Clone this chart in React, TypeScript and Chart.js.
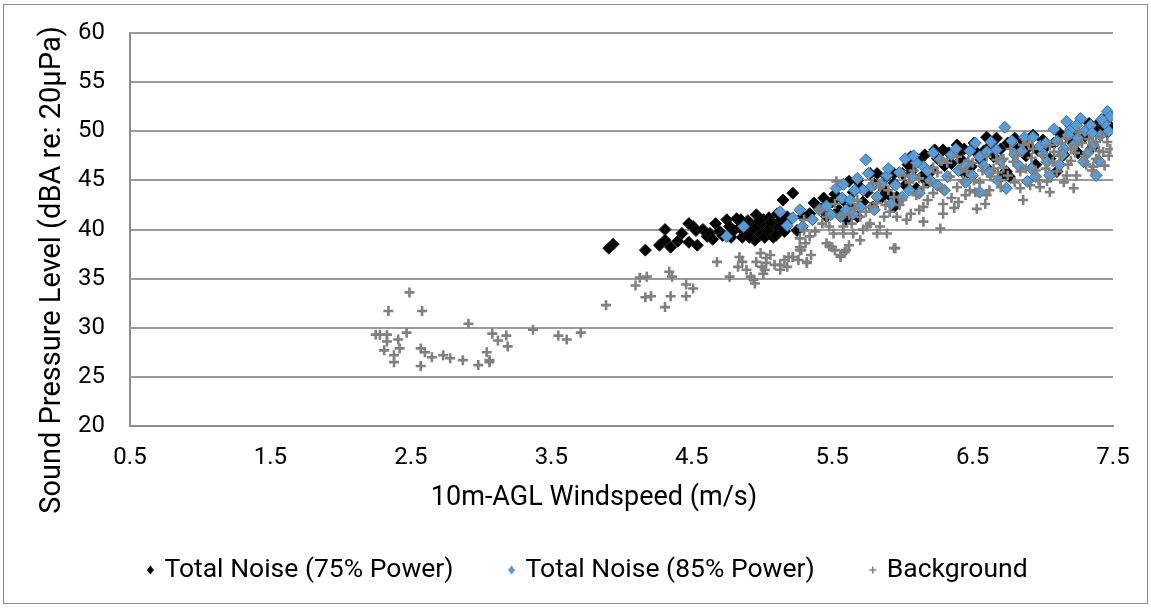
import React, { useEffect, useRef } from 'react';
import { Chart, registerables } from 'chart.js';

Chart.register(...registerables);

const xTickValues = [0.5, 1.5, 2.5, 3.5, 4.5, 5.5, 6.5, 7.5];
const yTickValues = [20, 25, 30, 35, 40, 45, 50, 55, 60];

const seriesLabels = ['Total Noise (75% Power)', 'Total Noise (85% Power)', 'Background'];
const xAxisTitle = '10m-AGL Windspeed (m/s)';
const yAxisTitle = 'Sound Pressure Level (dBA re: 20μPa)';

const total75: [number, number][] = [
  [3.91, 38.1], [3.94, 38.5], [4.17, 37.9], [4.27, 38.4], [4.31, 38.9], [4.31, 40.0], [4.35, 38.2],
  [4.40, 38.8], [4.43, 39.6], [4.48, 40.6], [4.51, 40.3], [4.48, 38.7], [4.54, 38.4], [4.53, 39.9],
  [4.61, 39.3], [4.63, 39.6], [4.67, 40.6], [4.70, 39.8], [4.75, 41.0], [4.77, 40.3], [4.82, 41.1],
  [4.89, 39.6], [4.92, 40.6], [4.96, 41.5], [4.95, 38.9], [5.01, 41.0], [4.72, 39.4], [4.80, 39.9],
  [4.84, 40.2], [4.86, 39.2], [4.90, 40.9], [4.93, 39.9], [4.97, 40.3], [4.99, 39.5], [5.00, 40.6],
  [5.03, 40.0], [5.05, 41.2], [5.07, 39.6], [5.09, 40.5], [5.11, 41.6], [5.13, 40.2], [5.16, 39.8],
  [5.02, 39.2], [4.98, 40.9], [4.87, 40.5], [4.91, 39.2], [5.06, 40.7], [5.08, 39.2], [5.12, 40.2],
  [5.04, 39.9], [5.15, 43.0], [5.22, 43.7], [5.20, 41.0], [5.25, 39.9], [5.29, 41.3], [5.34, 41.6],
  [5.37, 42.7], [5.42, 42.1], [5.46, 41.3], [5.18, 41.3], [5.62, 44.9], [5.68, 45.0], [5.77, 45.7],
  [5.82, 45.7], [5.89, 45.4], [5.94, 45.7], [5.58, 43.0], [5.63, 42.3], [5.60, 41.0], [5.68, 41.3],
  [5.79, 42.3], [5.87, 44.0], [5.94, 44.7], [5.96, 43.0], [6.06, 47.4], [6.23, 48.1], [6.29, 48.1],
  [6.39, 48.6], [6.51, 48.8], [6.60, 49.4], [6.67, 49.3], [6.00, 45.7], [6.07, 46.0], [6.14, 45.4],
  [6.21, 46.0], [6.35, 46.7], [6.42, 47.1], [6.49, 46.4], [6.56, 47.1], [6.65, 47.4], [6.72, 45.7],
  [6.76, 45.4], [5.94, 42.3], [5.96, 43.3], [6.80, 49.3], [6.93, 49.6], [7.00, 49.1], [7.15, 47.6],
  [7.41, 51.0], [7.46, 49.9], [6.74, 45.9], [6.82, 48.2], [7.05, 47.2], [7.10, 45.9], [7.48, 50.5],
  [7.45, 51.4], [7.30, 49.5], [7.20, 49.0], [7.25, 47.8], [7.35, 48.3], [7.08, 48.8], [6.88, 47.5],
  [6.95, 46.6], [6.70, 48.2], [6.62, 46.0], [6.45, 45.6], [6.30, 46.5], [6.18, 44.8], [6.10, 44.2],
  [6.02, 44.5], [5.85, 43.2], [5.75, 43.8], [5.70, 44.3], [5.55, 42.0], [5.50, 42.8], [5.44, 43.2],
  [6.58, 48.0], [6.40, 47.8], [6.25, 47.2], [7.38, 50.2], [7.12, 49.8], [6.97, 48.0],
  [5.52, 43.6], [5.65, 43.8], [5.72, 42.8], [5.80, 44.6], [5.90, 43.6], [6.04, 46.6], [6.12, 47.0],
  [6.16, 47.6], [6.33, 47.8], [6.44, 48.2], [6.53, 47.8], [6.63, 48.6], [6.75, 48.8], [6.86, 49.0],
  [6.90, 48.4], [7.02, 48.4], [7.18, 49.4], [7.22, 50.2], [7.33, 50.8], [7.43, 50.4], [4.58, 40.0],
  [4.65, 39.0], [4.78, 39.2], [4.85, 41.0], [5.10, 39.4], [5.14, 41.0]
];

const total85: [number, number][] = [
  [4.75, 39.3], [4.87, 40.3], [5.13, 41.8], [5.18, 40.4], [5.27, 42.0], [5.29, 40.3], [5.41, 42.0],
  [5.74, 47.1], [5.76, 45.7], [5.68, 45.2], [5.89, 45.5], [5.53, 44.2], [5.57, 43.2], [5.63, 43.0],
  [5.60, 42.0], [5.56, 41.3], [5.65, 41.6], [5.70, 42.3], [5.82, 43.3], [6.02, 47.2], [6.73, 50.4],
  [6.52, 48.8], [6.63, 48.9], [6.27, 47.1], [6.15, 46.4], [6.20, 45.0], [6.32, 45.4], [6.46, 46.7],
  [6.55, 47.4], [6.67, 48.1], [6.55, 43.8], [6.74, 44.2], [6.07, 45.4], [6.00, 43.3], [6.12, 43.7],
  [7.17, 51.0], [7.27, 51.3], [7.34, 50.6], [7.46, 52.0], [7.48, 51.5], [7.41, 49.6], [7.36, 48.6],
  [7.29, 46.9], [7.38, 45.5], [6.87, 49.4], [6.93, 49.4], [7.00, 47.7], [7.03, 46.9], [6.89, 44.9],
  [7.05, 45.5], [7.15, 48.2], [7.22, 48.6], [7.20, 50.2], [7.30, 50.0], [7.10, 49.0], [7.25, 49.3],
  [7.44, 50.8], [6.98, 48.5], [6.80, 47.6], [6.60, 47.9], [6.40, 46.0], [6.50, 45.5], [6.35, 47.6],
  [6.10, 46.8], [5.95, 44.5], [5.85, 44.6], [5.92, 42.6], [6.05, 44.0], [6.25, 44.5], [6.45, 44.8],
  [6.62, 45.8], [6.83, 46.5], [7.12, 46.6], [7.32, 47.8], [5.80, 42.0], [5.72, 44.0], [5.49, 41.5],
  [5.36, 41.0], [5.58, 44.6], [5.66, 44.0], [5.78, 44.4], [5.90, 46.2], [5.98, 45.8], [6.08, 47.5],
  [6.18, 46.0], [6.22, 47.8], [6.30, 44.0], [6.38, 48.2], [6.48, 48.0], [6.58, 46.5], [6.70, 47.0],
  [6.78, 49.0], [6.85, 48.0], [6.92, 46.2], [7.02, 48.8], [7.08, 50.2], [7.14, 47.6], [7.18, 49.6],
  [7.24, 50.6], [7.35, 49.8], [7.42, 51.2], [7.47, 50.0], [7.40, 47.0], [6.95, 45.4], [6.68, 45.0],
  [5.46, 42.4], [5.22, 41.2]
];

const background: [number, number][] = [
  [2.25, 29.3], [2.28, 29.3], [2.33, 29.3], [2.33, 28.6], [2.41, 28.8], [2.47, 29.5], [2.31, 27.7],
  [2.42, 27.9], [2.38, 27.2], [2.38, 26.5], [2.57, 27.9], [2.60, 27.5], [2.65, 27.0], [2.73, 27.2],
  [2.78, 26.9], [2.87, 26.7], [2.57, 26.1], [2.98, 26.2], [3.04, 27.5], [3.06, 26.7], [3.08, 29.4],
  [3.12, 28.7], [3.18, 29.2], [3.19, 28.1], [3.06, 26.5], [2.49, 33.6], [2.34, 31.7], [2.58, 31.7],
  [2.91, 30.4], [3.37, 29.8], [3.55, 29.2], [3.61, 28.8], [3.71, 29.5], [3.89, 32.3], [4.10, 34.3],
  [4.13, 35.1], [4.18, 35.2], [4.34, 35.7], [4.36, 35.2], [4.17, 33.1], [4.21, 33.2], [4.31, 32.1],
  [4.35, 33.2], [4.46, 34.4], [4.51, 34.0], [4.46, 33.2], [4.68, 36.7], [4.77, 35.2], [4.84, 37.2],
  [4.83, 36.2], [4.89, 35.9], [4.92, 35.2], [4.94, 34.9], [4.96, 36.7], [4.99, 37.6], [5.00, 36.2],
  [5.02, 35.9], [4.95, 34.5], [5.03, 37.1], [4.86, 36.7], [5.06, 37.4], [5.09, 36.4], [5.13, 35.9],
  [5.16, 36.9], [5.19, 37.2], [5.22, 37.2], [5.26, 36.9], [5.32, 36.7], [5.35, 37.4], [5.28, 37.9],
  [5.27, 39.1], [5.30, 39.9], [5.31, 38.6], [5.27, 38.2], [5.46, 38.6], [5.50, 38.2], [5.52, 37.9],
  [5.56, 37.4], [5.59, 37.7], [5.62, 38.4], [5.65, 39.6], [5.70, 38.9], [5.75, 40.3], [5.82, 39.6],
  [5.89, 39.6], [5.94, 38.1], [5.53, 44.9], [5.79, 44.7], [5.84, 44.3], [5.30, 41.0], [5.34, 39.3],
  [5.41, 42.0], [5.46, 41.3], [5.48, 40.3], [5.51, 39.6], [5.56, 41.3], [5.58, 40.3], [5.27, 37.9],
  [5.32, 36.6], [5.22, 37.2], [5.13, 36.4], [5.03, 36.6], [5.01, 35.5], [5.18, 36.2], [5.48, 38.3],
  [5.56, 37.2], [5.60, 37.9], [5.58, 39.6], [5.77, 40.6], [5.84, 40.3], [5.77, 42.3], [5.82, 42.7],
  [5.70, 41.3], [5.87, 41.3], [5.91, 41.8], [5.94, 43.3], [6.39, 47.4], [6.46, 45.9], [6.51, 45.0],
  [6.60, 47.4], [6.67, 47.1], [6.63, 45.4], [6.70, 44.3], [6.60, 43.5], [6.53, 42.1], [6.59, 42.6],
  [6.08, 46.0], [6.15, 44.3], [6.22, 43.7], [6.29, 42.6], [6.29, 41.6], [6.15, 42.3], [6.03, 41.0],
  [6.06, 41.6], [5.96, 41.3], [6.15, 40.8], [6.27, 40.1], [5.95, 38.1], [6.34, 45.4], [6.39, 44.3],
  [6.43, 45.0], [6.48, 44.0], [6.86, 48.6], [6.93, 48.2], [7.05, 48.6], [7.17, 49.3], [7.26, 49.9],
  [7.24, 48.6], [7.34, 48.2], [7.38, 48.9], [7.46, 48.9], [7.43, 47.9], [6.72, 47.2], [6.79, 46.9],
  [6.84, 45.9], [6.91, 44.5], [6.84, 44.2], [6.86, 43.0], [7.03, 44.9], [7.07, 46.9], [7.10, 45.9],
  [7.17, 45.5], [7.24, 45.5], [7.31, 46.6], [7.36, 46.4], [6.00, 43.0], [6.10, 43.5], [6.20, 44.8],
  [6.35, 43.2], [6.45, 43.5], [6.55, 44.8], [6.75, 45.5], [6.95, 46.0], [7.00, 47.5], [7.12, 47.5],
  [7.20, 47.0], [7.30, 47.5], [7.40, 48.0], [7.48, 48.2], [7.44, 46.5], [7.20, 48.2], [6.65, 46.2],
  [6.50, 46.8], [6.25, 45.8], [6.05, 44.8], [5.90, 44.0], [5.68, 43.0], [5.64, 40.6], [5.72, 40.0],
  [6.12, 42.0], [6.40, 42.8], [6.80, 44.8], [7.22, 44.2], [7.35, 46.0],
  [5.98, 42.5], [6.02, 45.5], [6.12, 45.2], [6.18, 43.0], [6.22, 46.3], [6.28, 44.2], [6.32, 46.8],
  [6.37, 42.2], [6.42, 46.2], [6.47, 47.0], [6.52, 43.8], [6.57, 46.0], [6.62, 44.0], [6.68, 45.8],
  [6.72, 46.3], [6.77, 48.2], [6.82, 47.5], [6.88, 46.2], [6.92, 47.3], [6.97, 45.0], [7.02, 46.2],
  [7.08, 47.9], [7.13, 48.8], [7.18, 46.6], [7.23, 47.8], [7.28, 48.8], [7.33, 49.2], [7.38, 47.2],
  [7.42, 49.5], [7.47, 47.5], [7.15, 44.8], [7.05, 43.8], [6.98, 44.3], [5.88, 42.5], [5.74, 41.8],
  [5.66, 42.2], [5.52, 42.6], [5.43, 40.6], [5.38, 39.8], [5.62, 41.5], [6.70, 45.0], [6.90, 48.8],
  [6.28, 47.0]
];

const toPoints = (arr: [number, number][]) => arr.map(([x, y]) => ({ x, y }));

const FONT = 'Roboto';

const framePlugin = {
  id: 'frame',
  beforeDraw(chart: any) {
    const { ctx } = chart;
    ctx.save();
    ctx.fillStyle = '#ffffff';
    ctx.fillRect(0, 0, chart.width, chart.height);
    ctx.strokeStyle = '#8c8c8c';
    ctx.lineWidth = 1;
    ctx.strokeRect(3.5, 4.5, chart.width - 7, chart.height - 9);
    ctx.restore();
  },
};

const titlesPlugin = {
  id: 'axisTitles',
  afterDraw(chart: any) {
    const { ctx } = chart;
    ctx.save();
    ctx.fillStyle = '#000000';
    ctx.textAlign = 'center';
    ctx.textBaseline = 'middle';
    ctx.font = `27px ${FONT}`;
    ctx.fillText(xAxisTitle, 594, 498);
    ctx.translate(53, 270);
    ctx.rotate(-Math.PI / 2);
    ctx.font = `29px ${FONT}`;
    ctx.fillText(yAxisTitle, 0, 0);
    ctx.restore();
  },
};

const legendPlugin = {
  id: 'customLegend',
  afterDraw(chart: any) {
    const { ctx } = chart;
    const y = 570;
    const markerToText = 14;
    const gap = 58;
    ctx.save();
    ctx.font = `26.5px ${FONT}`;
    ctx.textBaseline = 'middle';
    ctx.textAlign = 'left';
    const widths = chart.data.datasets.map((ds: any) => ctx.measureText(ds.label).width);
    const total = widths.reduce((a: number, w: number) => a + markerToText + w, 0) + gap * (widths.length - 1);
    let cx = 589 - total / 2;
    chart.data.datasets.forEach((ds: any, i: number) => {
      if (ds.pointStyle === 'cross') {
        ctx.strokeStyle = ds.borderColor;
        ctx.lineWidth = 1.6;
        ctx.beginPath();
        ctx.moveTo(cx - 3.5, y);
        ctx.lineTo(cx + 3.5, y);
        ctx.moveTo(cx, y - 3.5);
        ctx.lineTo(cx, y + 3.5);
        ctx.stroke();
      } else {
        ctx.fillStyle = ds.backgroundColor;
        ctx.beginPath();
        ctx.moveTo(cx - 3.5, y);
        ctx.lineTo(cx, y - 4.5);
        ctx.lineTo(cx + 3.5, y);
        ctx.lineTo(cx, y + 4.5);
        ctx.closePath();
        ctx.fill();
      }
      ctx.fillStyle = '#000000';
      ctx.fillText(ds.label, cx + markerToText, y);
      cx += markerToText + widths[i] + gap;
    });
    ctx.restore();
  },
};

export default function App() {
  const canvasRef = useRef<HTMLCanvasElement | null>(null);

  useEffect(() => {
    if (!canvasRef.current) return;
    const chart = new Chart(canvasRef.current, {
      type: 'scatter',
      data: {
        datasets: [
          {
            label: seriesLabels[0],
            data: toPoints(total75),
            pointStyle: 'rectRot',
            pointRadius: 6,
            backgroundColor: '#000000',
            borderColor: '#1a1a1a',
            borderWidth: 1,
            order: 3,
          },
          {
            label: seriesLabels[1],
            data: toPoints(total85),
            pointStyle: 'rectRot',
            pointRadius: 6,
            backgroundColor: '#5b9bd5',
            borderColor: '#3a6f9e',
            borderWidth: 1,
            order: 2,
          },
          {
            label: seriesLabels[2],
            data: toPoints(background),
            pointStyle: 'cross',
            pointRadius: 5,
            backgroundColor: '#808080',
            borderColor: '#808080',
            borderWidth: 2.6,
            order: 1,
          },
        ] as any,
      },
      options: {
        responsive: false,
        animation: false,
        devicePixelRatio: 1,
        layout: { padding: { top: 33, right: 38, bottom: 82, left: 0 } },
        plugins: {
          legend: { display: false },
          tooltip: { enabled: false },
        },
        scales: {
          x: {
            type: 'linear',
            min: 0.5,
            max: 7.5,
            afterBuildTicks: (s: any) => {
              s.ticks = xTickValues.map((v) => ({ value: v }));
            },
            afterFit: (s: any) => {
              s.height = 100;
            },
            grid: { display: false, drawTicks: false },
            border: { display: true, color: '#8c8c8c', width: 2 },
            ticks: {
              padding: 18,
              color: '#000000',
              font: { family: FONT, size: 24 },
              callback: (v: any) => Number(v).toFixed(1),
            },
            title: { display: false, text: xAxisTitle },
          },
          y: {
            type: 'linear',
            min: 20,
            max: 60,
            afterBuildTicks: (s: any) => {
              s.ticks = yTickValues.map((v) => ({ value: v }));
            },
            afterFit: (s: any) => {
              s.width = 130;
              s.paddingTop = 0;
              s.paddingBottom = 0;
            },
            grid: { display: true, color: '#9a9a9a', lineWidth: 2, drawTicks: false },
            border: { display: true, color: '#8c8c8c', width: 2 },
            ticks: {
              padding: 25,
              color: '#000000',
              font: { family: FONT, size: 24 },
            },
            title: { display: false, text: yAxisTitle },
          },
        },
      } as any,
      plugins: [framePlugin, titlesPlugin, legendPlugin],
    });
    return () => chart.destroy();
  }, []);

  return (
    <div style={{ position: 'absolute', left: 0, top: 0, width: 1151, height: 608 }}>
      <canvas ref={canvasRef} width={1151} height={608} style={{ width: 1151, height: 608, display: 'block' }} />
    </div>
  );
}
